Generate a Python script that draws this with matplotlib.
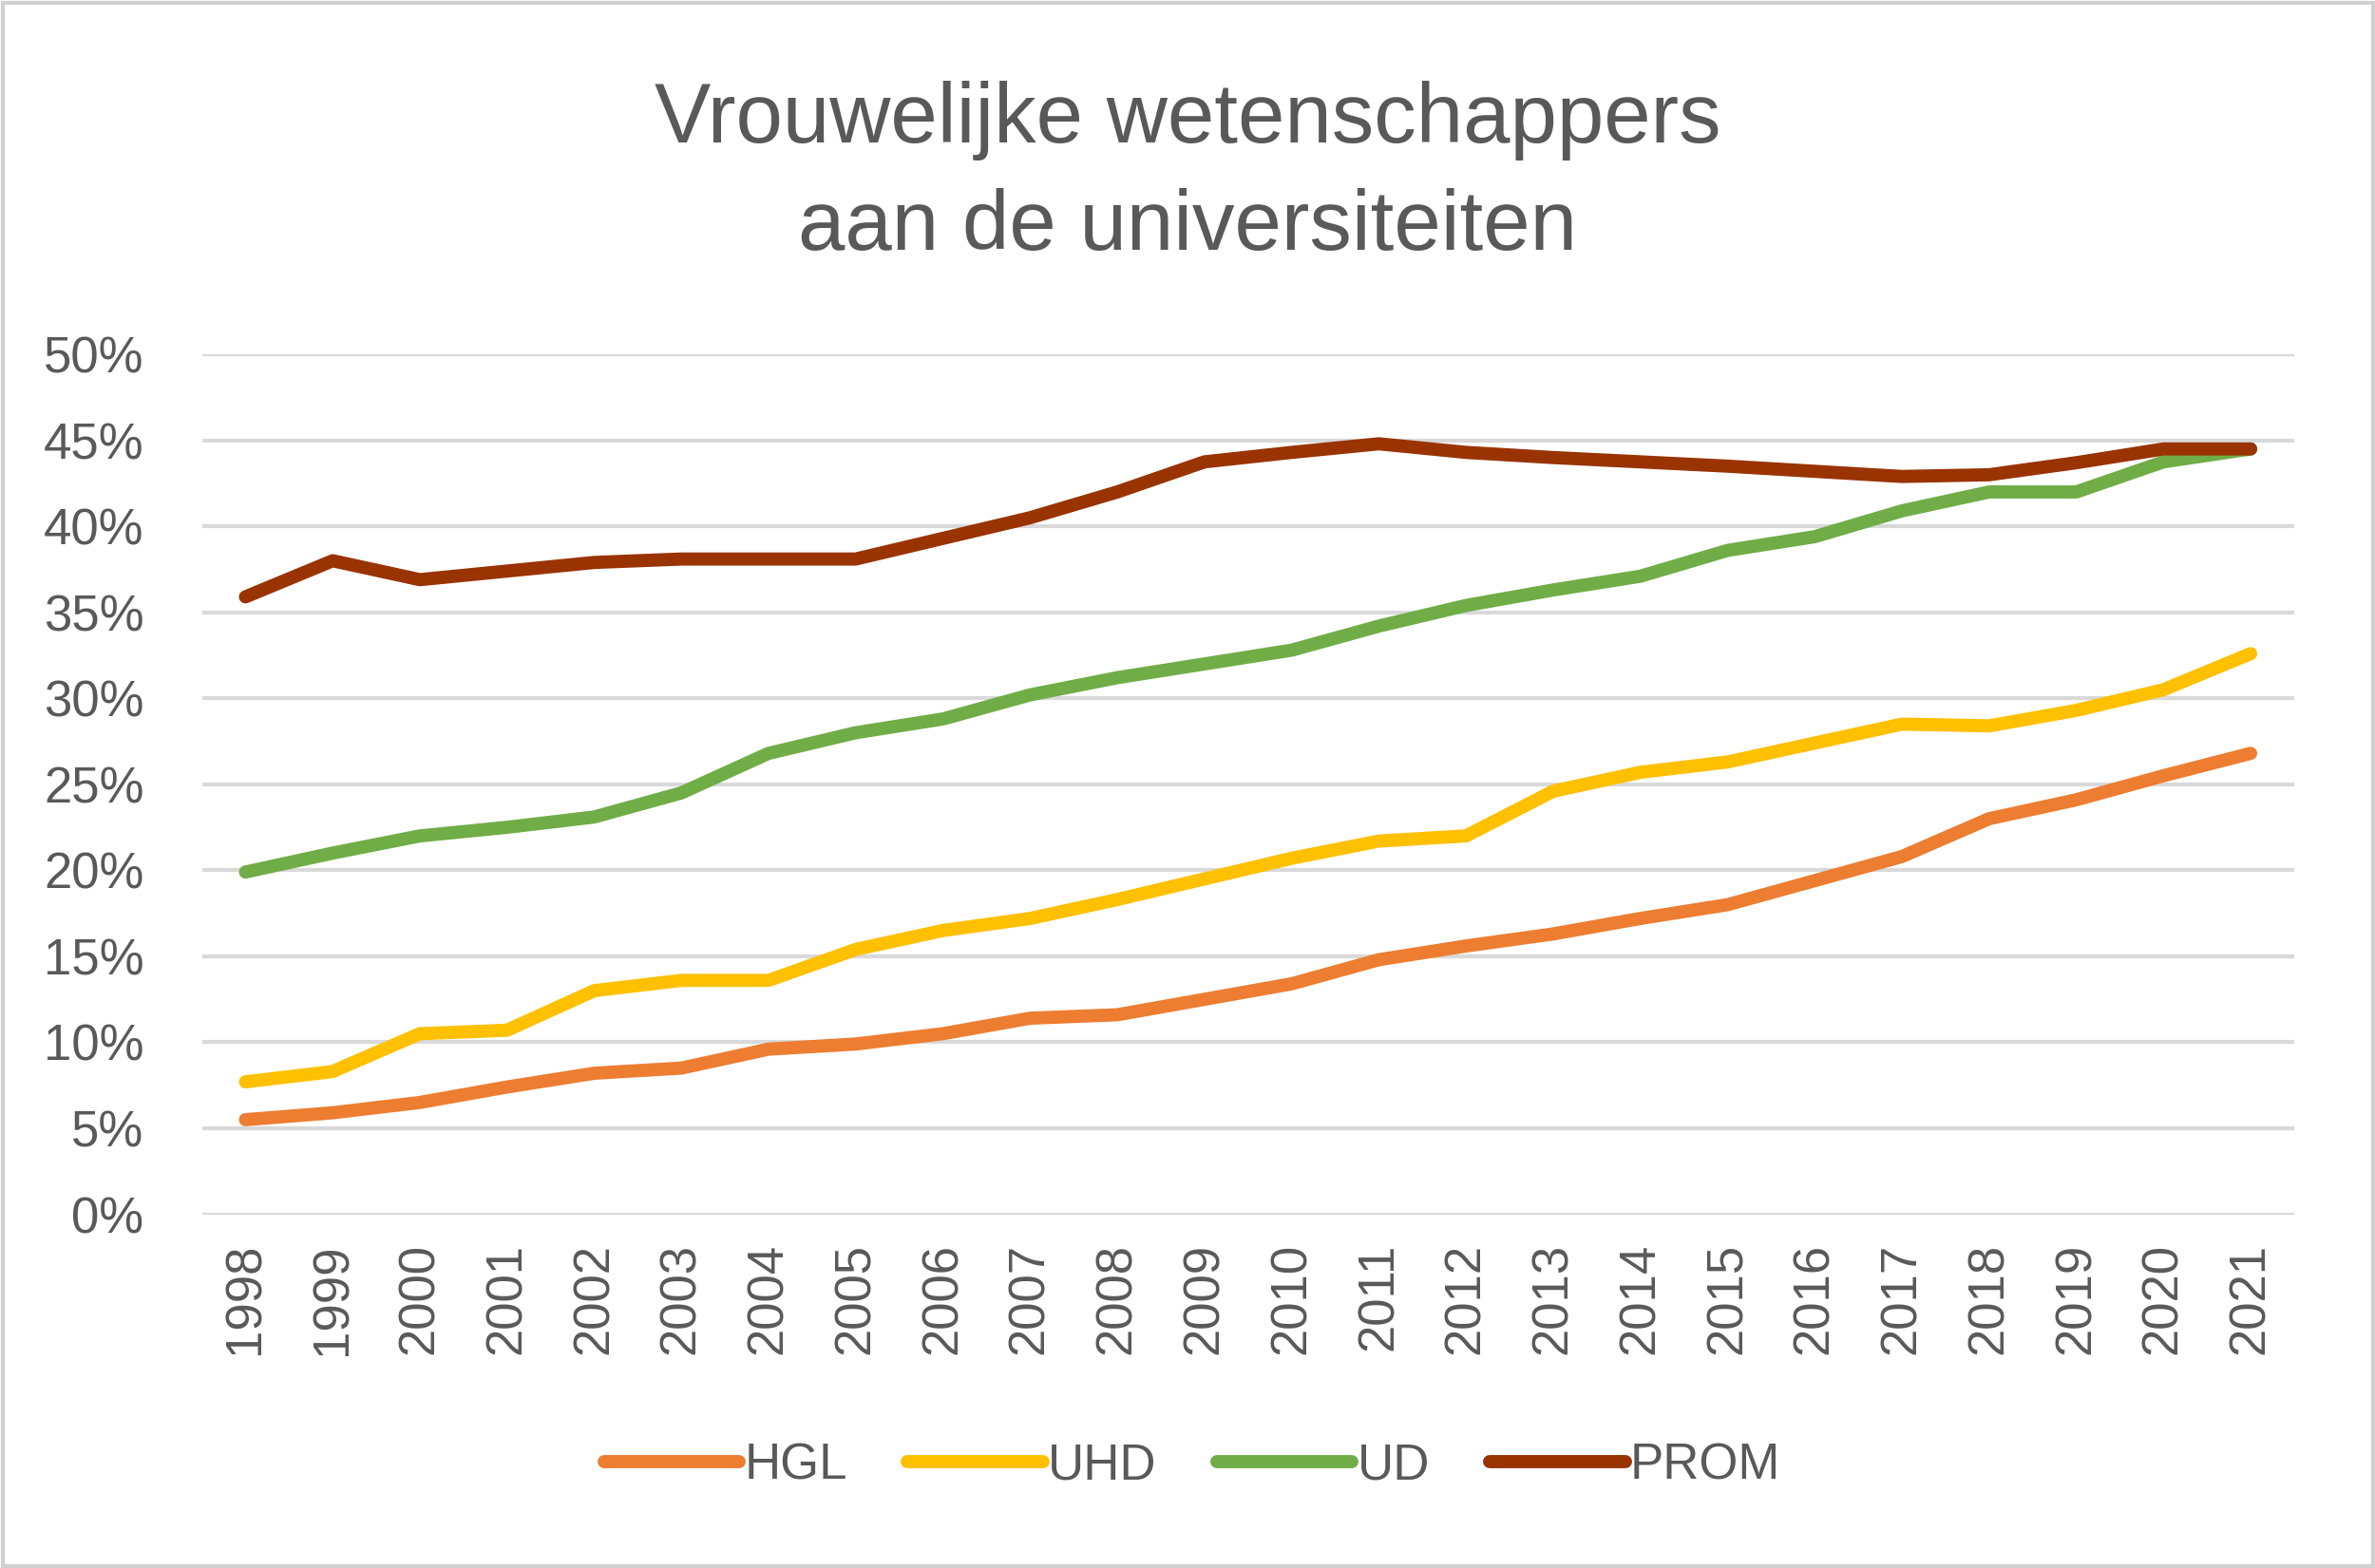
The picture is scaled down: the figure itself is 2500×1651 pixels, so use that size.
import matplotlib
matplotlib.use("Agg")
import matplotlib.pyplot as plt
from matplotlib.patches import Rectangle
from matplotlib.ticker import PercentFormatter

# data (percent women per year)
years = [str(y) for y in range(1998, 2022)]
hgl = [5.5, 5.9, 6.5, 7.4, 8.2, 8.5, 9.6, 9.9, 10.5, 11.4, 11.6, 12.5,
       13.4, 14.8, 15.6, 16.3, 17.2, 18.0, 19.4, 20.8, 23.0, 24.1, 25.5, 26.8]
uhd = [7.7, 8.3, 10.5, 10.7, 13.0, 13.6, 13.6, 15.4, 16.5, 17.2, 18.3, 19.5,
       20.7, 21.7, 22.0, 24.6, 25.7, 26.3, 27.4, 28.5, 28.4, 29.3, 30.5, 32.6]
ud = [19.9, 21.0, 22.0, 22.5, 23.1, 24.5, 26.8, 28.0, 28.8, 30.2, 31.2, 32.0,
      32.8, 34.2, 35.4, 36.3, 37.1, 38.6, 39.4, 40.9, 42.0, 42.0, 43.75, 44.5]
prom = [35.9, 38.0, 36.9, 37.4, 37.9, 38.1, 38.1, 38.1, 39.3, 40.5, 42.0, 43.75,
        44.3, 44.8, 44.3, 44.0, 43.75, 43.5, 43.2, 42.9, 43.0, 43.7, 44.5, 44.5]

series = {"HGL": hgl, "UHD": uhd, "UD": ud, "PROM": prom}
colors = {"HGL": "#ED7D31", "UHD": "#FFC000", "UD": "#70AD47", "PROM": "#993300"}

txt = "#595959"
plt.rcParams["font.family"] = ["Liberation Sans", "DejaVu Sans"]

fig = plt.figure(figsize=(25, 16.51), dpi=100)
ax = fig.add_axes([0.085, 0.2256, 0.881, 0.5484])

x = range(len(years))
for name, vals in series.items():
    ax.plot(x, [v / 100 for v in vals], color=colors[name], lw=10,
            solid_capstyle="round", solid_joinstyle="round", label=name, zorder=3)

ax.set_xlim(-0.5, len(years) - 0.5)
ax.set_ylim(0, 0.5)
ax.set_yticks([i * 0.05 for i in range(11)])
ax.yaxis.set_major_formatter(PercentFormatter(1.0, decimals=0))
ax.set_xticks(list(x))
ax.set_xticklabels(years, rotation=90)
ax.grid(axis="y", color="#d9d9d9", lw=3)
ax.set_axisbelow(True)
for s in ax.spines.values():
    s.set_visible(False)
ax.tick_params(axis="both", length=0, labelsize=38, colors=txt)
ax.tick_params(axis="y", pad=44)
ax.tick_params(axis="x", pad=22)

fig.text(0.5, 0.889, "Vrouwelijke wetenschappers\naan de universiteiten",
         ha="center", va="center", fontsize=64, color=txt, linespacing=1.45)

leg = fig.legend(loc="center", bbox_to_anchor=(0.502, 0.065), ncol=4, frameon=False,
                 fontsize=38, handlelength=2.7, handletextpad=0.1, columnspacing=1.2)
for t in leg.get_texts():
    t.set_color(txt)

# thin chart-area border
fig.patches.append(Rectangle((0.001, 0.001), 0.998, 0.997, transform=fig.transFigure,
                             fill=False, edgecolor="#d0d0d0", lw=3))

fig.savefig("out.png", dpi=100, facecolor="white")
